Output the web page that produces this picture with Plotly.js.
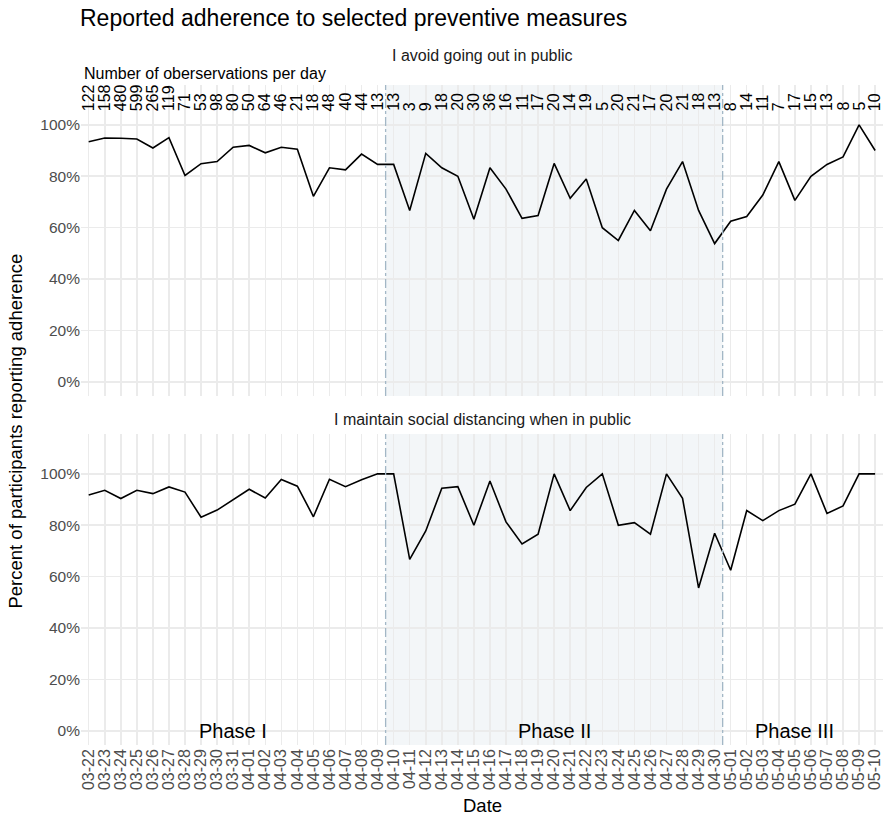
<!DOCTYPE html>
<html>
<head>
<meta charset="utf-8">
<script src="https://cdn.plot.ly/plotly-3.0.1.min.js"></script>
<style>html,body{margin:0;padding:0;background:#fff;}#chart{width:887px;height:816px;}</style>
</head>
<body>
<div id="chart"></div>
<script>
const dates = ["03-22","03-23","03-24","03-25","03-26","03-27","03-28","03-29","03-30","03-31",
  "04-01","04-02","04-03","04-04","04-05","04-06","04-07","04-08","04-09","04-10",
  "04-11","04-12","04-13","04-14","04-15","04-16","04-17","04-18","04-19","04-20",
  "04-21","04-22","04-23","04-24","04-25","04-26","04-27","04-28","04-29","04-30",
  "05-01","05-02","05-03","05-04","05-05","05-06","05-07","05-08","05-09","05-10"];

const nObs = [122,158,480,599,265,119,71,53,98,80,
  50,64,46,21,18,48,40,44,13,13,
  3,9,18,20,30,36,16,11,17,20,
  14,19,5,20,21,17,20,21,18,13,
  8,14,11,7,17,15,13,8,5,10];

const avoidPublic = [93.4,94.9,94.8,94.5,91.0,95.0,80.3,84.9,85.7,91.3,
  92.0,89.1,91.3,90.5,72.2,83.3,82.5,88.6,84.6,84.6,
  66.7,88.9,83.3,80.0,63.3,83.3,75.0,63.6,64.7,85.0,
  71.4,78.9,60.0,55.0,66.7,58.8,75.0,85.7,66.7,53.8,
  62.5,64.3,72.7,85.7,70.6,80.0,84.6,87.5,100,90.0];

const socialDistancing = [91.8,93.6,90.4,93.6,92.3,94.9,92.9,83.1,85.9,90.0,
  94.0,90.6,97.8,95.2,83.3,97.9,95.0,97.7,100,100,
  66.7,77.8,94.4,95.0,80.0,97.2,81.3,72.7,76.5,100,
  85.7,94.7,100,80.0,81.0,76.5,100,90.5,55.6,76.9,
  62.5,85.7,81.8,85.7,88.2,100,84.6,87.5,100,100];

const panelTitles = ["I avoid going out in public","I maintain social distancing when in public"];
const phaseLabels = ["Phase I","Phase II","Phase III"];
const phaseLabelAt = ["03-31","04-20","05-05"];
const phaseStart = ["04-10","05-01"]; // first day of Phase II and Phase III
const yTicks = [0,20,40,60,80,100];
const yTickText = yTicks.map(function(v){ return v + '%'; });

const FONT = "Liberation Sans, Arial, Helvetica, sans-serif";

const traces = [
  {x: dates, y: avoidPublic, xaxis: 'x2', yaxis: 'y2', type: 'scatter', mode: 'lines',
   line: {color: '#000000', width: 1.6}, hoverinfo: 'x+y'},
  {x: dates, y: socialDistancing, xaxis: 'x', yaxis: 'y', type: 'scatter', mode: 'lines',
   line: {color: '#000000', width: 1.6}, hoverinfo: 'x+y'}
];

const xr = [-0.48, dates.length - 1 + 0.49];
const yr = [-5.5, 115.5];
const gridc = '#ebebeb';

const baseX = {
  type: 'category', categoryarray: dates, categoryorder: 'array', range: xr,
  tickmode: 'array', tickvals: dates, ticktext: dates,
  showgrid: true, gridcolor: gridc, gridwidth: 1.5, zeroline: false, showline: false,
  ticks: '', fixedrange: true
};
const baseY = {
  range: yr, tickmode: 'array', tickvals: yTicks, ticktext: yTickText,
  showgrid: true, gridcolor: gridc, gridwidth: 1.5,
  zeroline: false, showline: false, ticks: '', tickfont: {family: FONT, size: 15.5, color: '#4d4d4d'},
  fixedrange: true
};

const layout = {
  width: 887, height: 816,
  margin: {l: 80.5, r: 4, t: 85, b: 71, pad: 0},
  paper_bgcolor: '#ffffff', plot_bgcolor: 'rgba(0,0,0,0)',
  showlegend: false,
  font: {family: FONT},
  title: {text: 'Reported adherence to selected preventive measures', x: 80/887, xanchor: 'left',
          xref: 'container', yref: 'container', y: 1 - 18/816, yanchor: 'middle',
          font: {family: FONT, size: 23, color: '#000000'}},
  xaxis: Object.assign({}, baseX, {anchor: 'y', domain: [0, 1], showticklabels: true, tickangle: -90,
          tickfont: {family: FONT, size: 16, color: '#4d4d4d'}}),
  xaxis2: Object.assign({}, baseX, {anchor: 'y2', domain: [0, 1], showticklabels: false}),
  yaxis: Object.assign({}, baseY, {anchor: 'x', domain: [0, 0.4712]}),
  yaxis2: Object.assign({}, baseY, {anchor: 'x2', domain: [0.5288, 1]}),
  shapes: [],
  annotations: []
};

// Phase II shading and boundary lines for both panels
const b0 = dates.indexOf(phaseStart[0]) - 0.5;
const b1 = dates.indexOf(phaseStart[1]) - 0.5;
[['x','y'],['x2','y2']].forEach(function(p){
  layout.shapes.push({type: 'rect', xref: p[0], yref: p[1], x0: b0, x1: b1, y0: yr[0], y1: yr[1],
    fillcolor: '#f3f6f8', line: {width: 0}, layer: 'below'});
  [b0, b1].forEach(function(b){
    layout.shapes.push({type: 'line', xref: p[0], yref: p[1], x0: b, x1: b, y0: yr[0], y1: yr[1],
      line: {color: '#a3b7c6', width: 1.3, dash: 'dashdot'}, layer: 'above'});
  });
});

// observation counts above top panel
dates.forEach(function(d, i){
  layout.annotations.push({x: d, y: 105, xref: 'x2', yref: 'y2', text: String(nObs[i]),
    textangle: -90, xanchor: 'center', yanchor: 'bottom', showarrow: false, borderpad: 0,
    font: {family: FONT, size: 16, color: '#000000'}});
});

layout.annotations.push({x: 1.5/802.5, y: (745 - 73)/660, xref: 'paper', yref: 'paper',
  text: 'Number of oberservations per day', xanchor: 'left', yanchor: 'middle', showarrow: false,
  font: {family: FONT, size: 16, color: '#000000'}});

layout.annotations.push({x: 0.5, y: (745 - 55)/660, xref: 'paper', yref: 'paper', text: panelTitles[0],
  xanchor: 'center', yanchor: 'middle', showarrow: false, font: {family: FONT, size: 16, color: '#1a1a1a'}});
layout.annotations.push({x: 0.5, y: (745 - 419)/660, xref: 'paper', yref: 'paper', text: panelTitles[1],
  xanchor: 'center', yanchor: 'middle', showarrow: false, font: {family: FONT, size: 16, color: '#1a1a1a'}});

phaseLabels.forEach(function(lbl, i){
  layout.annotations.push({x: phaseLabelAt[i], y: 0, xref: 'x', yref: 'y', text: lbl,
    xanchor: 'center', yanchor: 'middle', showarrow: false, font: {family: FONT, size: 20, color: '#000000'}});
});

layout.annotations.push({x: (15 - 80.5)/802.5, y: (745 - 431)/660, xref: 'paper', yref: 'paper',
  text: 'Percent of participants reporting adherence', textangle: -90, xanchor: 'center', yanchor: 'middle',
  showarrow: false, font: {family: FONT, size: 18.5, color: '#000000'}});
layout.annotations.push({x: 0.5, y: (745 - 805)/660, xref: 'paper', yref: 'paper', text: 'Date',
  xanchor: 'center', yanchor: 'middle', showarrow: false, font: {family: FONT, size: 18.5, color: '#000000'}});

Plotly.newPlot('chart', traces, layout, {displayModeBar: false, staticPlot: true});
</script>
</body>
</html>
